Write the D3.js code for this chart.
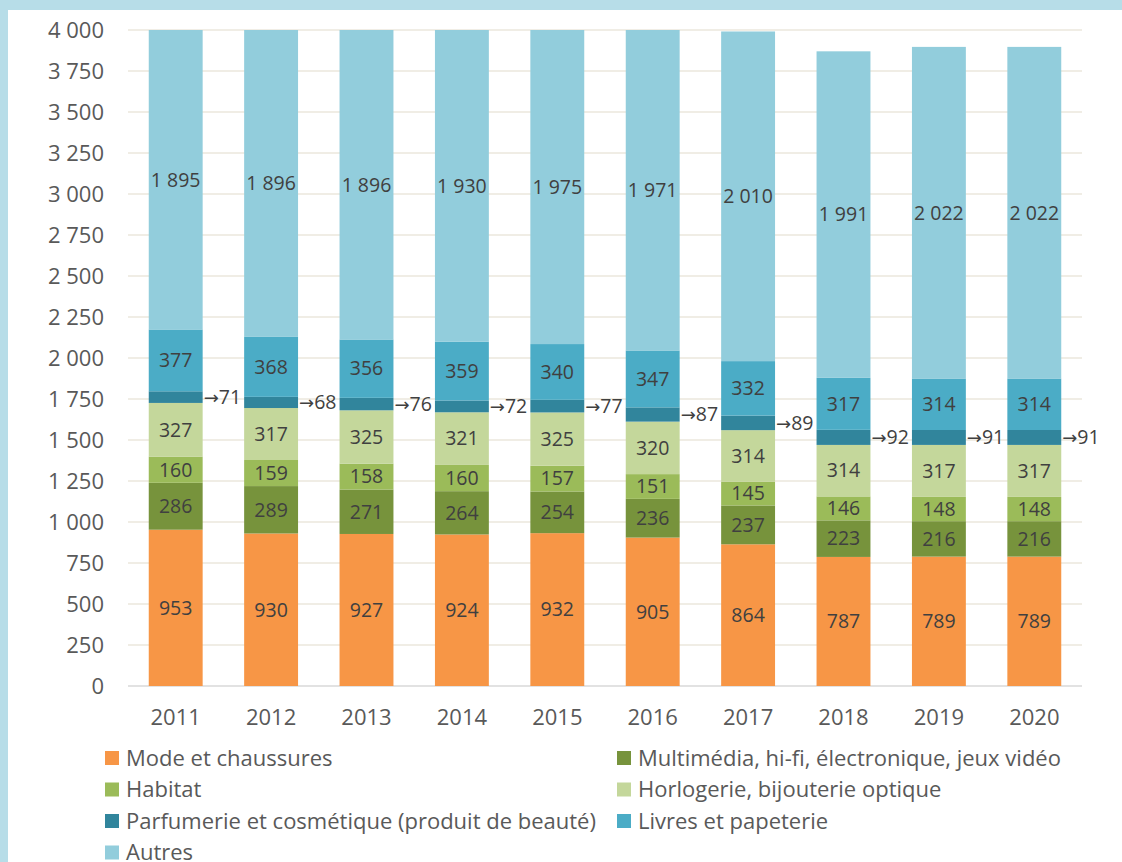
<!DOCTYPE html>
<html>
<head>
<script src="https://cdn.jsdelivr.net/npm/d3@7"></script>
<style type="text/css">
	body { margin: 0; background: #fff; }
	svg { display: block; }
</style>
</head>
<body>
<script>
	var years = ["2011","2012","2013","2014","2015","2016","2017","2018","2019","2020"];
	var series = ["Mode et chaussures", "Multimédia, hi-fi, électronique, jeux vidéo", "Habitat",
		"Horlogerie, bijouterie optique", "Parfumerie et cosmétique (produit de beauté)", "Livres et papeterie", "Autres"];
	var colors = ["#f79646", "#77933c", "#9bbb59", "#c4d79b", "#31859c", "#4bacc6", "#92cddc"];

	var mode = [953, 930, 927, 924, 932, 905, 864, 787, 789, 789];
	var multimedia = [286, 289, 271, 264, 254, 236, 237, 223, 216, 216];
	var habitat = [160, 159, 158, 160, 157, 151, 145, 146, 148, 148];
	var horlogerie = [327, 317, 325, 321, 325, 320, 314, 314, 317, 317];
	var parfumerie = [71, 68, 76, 72, 77, 87, 89, 92, 91, 91];
	var livres = [377, 368, 356, 359, 340, 347, 332, 317, 314, 314];
	var autres = [1895, 1896, 1896, 1930, 1975, 1971, 2010, 1991, 2022, 2022];
	var yTicks = [0, 250, 500, 750, 1000, 1250, 1500, 1750, 2000, 2250, 2500, 2750, 3000, 3250, 3500, 3750, 4000];

	var allValues = [mode, multimedia, habitat, horlogerie, parfumerie, livres, autres];
	var table = years.map(function (yr, i) {
		var row = { year: yr };
		series.forEach(function (s, k) { row[s] = allValues[k][i]; });
		return row;
	});

	var W = 1122, H = 862;
	var svg = d3.select("body").append("svg").attr("width", W).attr("height", H);

	// light blue frame (top and left)
	svg.append("rect").attr("x", 0).attr("y", 0).attr("width", W).attr("height", 10).attr("fill", "#b7dde8");
	svg.append("rect").attr("x", 0).attr("y", 0).attr("width", 8).attr("height", H).attr("fill", "#b7dde8");

	var mLeft = 128, mRight = 1082, mTop = 30, mBottom = 686;
	var x = d3.scaleBand().domain(years).range([mLeft, mRight]).paddingInner(0.435).paddingOuter(0.2175);
	var y = d3.scaleLinear().domain([0, 4000]).range([mBottom, mTop]).clamp(true);
	var fmt = function (v) { return d3.format(",")(v).replace(/,/g, " "); };
	var font = "'Open Sans', sans-serif";

	// gridlines
	svg.append("g").selectAll("line").data(yTicks).enter().append("line")
		.attr("x1", mLeft).attr("x2", mRight)
		.attr("y1", function (d) { return y(d); }).attr("y2", function (d) { return y(d); })
		.attr("stroke", function (d) { return d === 0 ? "#d9d9d9" : "#ebe7dc"; })
		.attr("stroke-width", 1.5);

	// y axis labels
	var yAxis = svg.append("g").attr("transform", "translate(" + (mLeft - 24) + ",0)")
		.call(d3.axisLeft(y).tickValues(yTicks).tickFormat(fmt).tickSize(0).tickPadding(0));
	yAxis.select(".domain").remove();
	yAxis.selectAll("text").attr("font-family", font).attr("font-size", 22).attr("fill", "#595959");

	// x axis labels
	var xAxis = svg.append("g").attr("transform", "translate(0," + mBottom + ")")
		.call(d3.axisBottom(x).tickSize(0).tickPadding(23));
	xAxis.select(".domain").remove();
	xAxis.selectAll("text").attr("font-family", font).attr("font-size", 22).attr("fill", "#595959");

	var stacked = d3.stack().keys(series)(table);

	var layers = svg.append("g").selectAll("g").data(stacked).enter().append("g")
		.attr("fill", function (d, i) { return colors[i]; });

	layers.selectAll("rect").data(function (d) { return d; }).enter().append("rect")
		.attr("x", function (d) { return x(d.data.year); })
		.attr("width", x.bandwidth())
		.attr("y", function (d) { return y(d[1]); })
		.attr("height", function (d) { return y(d[0]) - y(d[1]); });

	// labels
	stacked.forEach(function (layer, k) {
		var g = svg.append("g");
		var t = g.selectAll("text").data(layer).enter().append("text")
			.attr("x", function (d) {
				return k === 4 ? x(d.data.year) + x.bandwidth() + 1 : x(d.data.year) + x.bandwidth() / 2;
			})
			.attr("y", function (d) { return (y(d[0]) + y(d[1])) / 2; })
			.attr("dy", "0.35em")
			.attr("text-anchor", k === 4 ? "start" : "middle")
			.attr("font-family", font).attr("font-size", 19.5).attr("fill", "#404040");
		if (k === 4) {
			t.append("tspan").attr("font-family", "'DejaVu Sans'").attr("font-size", 18).text("\u2192");
			t.append("tspan").text(function (d) { return fmt(d[1] - d[0]); });
		} else {
			t.text(function (d) { return fmt(d[1] - d[0]); });
		}
	});

	// legend
	var legend = svg.append("g").selectAll("g").data(series).enter().append("g")
		.attr("transform", function (d, i) {
			var col = i % 2, row = Math.floor(i / 2);
			return "translate(" + (col === 0 ? 105 : 617) + "," + (758 + row * 31.5) + ")";
		});
	legend.append("rect").attr("x", 0).attr("y", -7).attr("width", 14).attr("height", 14)
		.attr("fill", function (d, i) { return colors[i]; });
	legend.append("text").attr("x", 21).attr("dy", "0.35em")
		.attr("font-family", font).attr("font-size", 22).attr("fill", "#595959")
		.text(function (d) { return d; });
</script>
</body>
</html>
